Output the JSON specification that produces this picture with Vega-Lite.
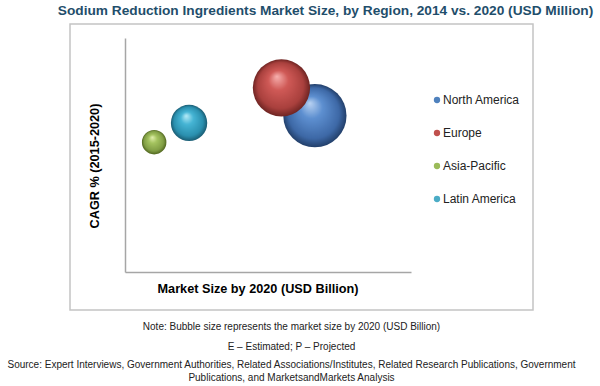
{
  "$schema": "https://vega.github.io/schema/vega-lite/v6.json",
  "width": 463,
  "height": 286,
  "autosize": {"type": "none"},
  "padding": {"left": 70, "top": 24, "right": 67, "bottom": 76},
  "background": "white",
  "title": {
    "text": ["Note: Bubble size represents the market size by 2020 (USD Billion)", "E – Estimated; P – Projected"],
    "subtitle": ["Source: Expert Interviews, Government Authorities, Related Associations/Institutes, Related Research Publications, Government", "Publications, and MarketsandMarkets Analysis"],
    "orient": "bottom",
    "anchor": "middle",
    "frame": "group",
    "dx": -10,
    "offset": 12,
    "font": "Liberation Sans",
    "fontSize": 10,
    "fontWeight": "normal",
    "color": "#222222",
    "lineHeight": 20,
    "subtitleFont": "Liberation Sans",
    "subtitleFontSize": 10,
    "subtitleColor": "#222222",
    "subtitleLineHeight": 12.5,
    "subtitlePadding": 8,
    "limit": 0
  },
  "data": {
    "values": [
      {"region": "North America", "market_x": 66.4, "cagr": 66.8, "bubble": 1.0},
      {"region": "Europe", "market_x": 54.7, "cagr": 78.7, "bubble": 0.82},
      {"region": "Asia-Pacific", "market_x": 10.2, "cagr": 55.5, "bubble": 0.15},
      {"region": "Latin America", "market_x": 22.4, "cagr": 63.7, "bubble": 0.33}
    ]
  },
  "config": {
    "view": {"stroke": "#c4c4c4", "strokeWidth": 1.5},
    "axis": {"grid": false, "ticks": false, "labels": false}
  },
  "layer": [
    {
      "mark": {"type": "circle", "opacity": 0},
      "encoding": {
        "x": {
          "field": "market_x", "type": "quantitative",
          "scale": {"domain": [0, 100], "range": [55, 341], "nice": false, "zero": false},
          "axis": {
            "orient": "bottom", "offset": -38, "domain": true, "domainColor": "#a6a6a6", "domainWidth": 1.5,
            "title": "Market Size by 2020 (USD Billion)", "titleFont": "Liberation Sans", "titleFontSize": 12.7,
            "titleFontWeight": "bold", "titleColor": "#000000", "titleX": 187.5, "titlePadding": 10
          }
        },
        "y": {
          "field": "cagr", "type": "quantitative",
          "scale": {"domain": [0, 100], "range": [248, 14], "nice": false, "zero": false},
          "axis": {
            "orient": "left", "offset": -55, "domain": true, "domainColor": "#a6a6a6", "domainWidth": 1.5,
            "title": "CAGR % (2015-2020)", "titleFont": "Liberation Sans", "titleFontSize": 12.7,
            "titleFontWeight": "bold", "titleColor": "#000000", "titleX": -24, "titleY": 141.5
          }
        },
        "color": {
          "field": "region", "type": "nominal",
          "scale": {
            "domain": ["North America", "Europe", "Asia-Pacific", "Latin America"],
            "range": ["#4f81bd", "#c0504d", "#9bbb59", "#4bacc6"]
          },
          "legend": {
            "title": null, "orient": "none", "legendX": 361, "legendY": 70, "padding": 0,
            "symbolType": "circle", "symbolSize": 40, "symbolOpacity": 1, "symbolStrokeWidth": 0,
            "labelFont": "Liberation Sans", "labelFontSize": 12, "labelColor": "#222222",
            "labelOffset": 0, "rowPadding": 21
          }
        }
      }
    },
    {
      "mark": {"type": "circle", "opacity": 0},
      "encoding": {
        "x": {
          "field": "market_x", "type": "quantitative",
          "axis": {
            "orient": "top", "domain": false,
            "title": "Sodium Reduction Ingredients Market Size, by Region, 2014 vs. 2020 (USD Million)",
            "titleFont": "Liberation Sans", "titleFontSize": 13.7, "titleFontWeight": "bold",
            "titleColor": "#1f4e6b", "titleX": 255, "titlePadding": 7, "titleLimit": 700
          }
        },
        "y": {"field": "cagr", "type": "quantitative"}
      }
    },
    {
      "transform": [{"filter": "datum.region === 'North America'"}],
      "mark": {
        "type": "circle", "opacity": 1,
        "color": {"gradient": "radial", "x1": 0.42, "y1": 0.3, "r1": 0, "x2": 0.5, "y2": 0.5, "r2": 0.5,
          "stops": [{"offset": 0, "color": "#b9d2f2"}, {"offset": 0.35, "color": "#5d8fd0"}, {"offset": 0.8, "color": "#3d68a6"}, {"offset": 1, "color": "#223f6a"}]}
      },
      "encoding": {
        "x": {"field": "market_x", "type": "quantitative", "axis": null},
        "y": {"field": "cagr", "type": "quantitative"},
        "size": {"field": "bubble", "type": "quantitative", "scale": {"domain": [0, 1], "range": [0, 4000], "zero": true}, "legend": null}
      }
    },
    {
      "transform": [{"filter": "datum.region === 'Europe'"}],
      "mark": {
        "type": "circle", "opacity": 1,
        "color": {"gradient": "radial", "x1": 0.42, "y1": 0.3, "r1": 0, "x2": 0.5, "y2": 0.5, "r2": 0.5,
          "stops": [{"offset": 0, "color": "#f7b0ae"}, {"offset": 0.35, "color": "#cf5956"}, {"offset": 0.8, "color": "#a9403d"}, {"offset": 1, "color": "#6e2422"}]}
      },
      "encoding": {
        "x": {"field": "market_x", "type": "quantitative", "axis": null},
        "y": {"field": "cagr", "type": "quantitative"},
        "size": {"field": "bubble", "type": "quantitative", "legend": null}
      }
    },
    {
      "transform": [{"filter": "datum.region === 'Latin America'"}],
      "mark": {
        "type": "circle", "opacity": 1,
        "color": {"gradient": "radial", "x1": 0.42, "y1": 0.3, "r1": 0, "x2": 0.5, "y2": 0.5, "r2": 0.5,
          "stops": [{"offset": 0, "color": "#b8ecf8"}, {"offset": 0.35, "color": "#45b4d4"}, {"offset": 0.8, "color": "#2a8fae"}, {"offset": 1, "color": "#1a5c73"}]}
      },
      "encoding": {
        "x": {"field": "market_x", "type": "quantitative", "axis": null},
        "y": {"field": "cagr", "type": "quantitative"},
        "size": {"field": "bubble", "type": "quantitative", "legend": null}
      }
    },
    {
      "transform": [{"filter": "datum.region === 'Asia-Pacific'"}],
      "mark": {
        "type": "circle", "opacity": 1,
        "color": {"gradient": "radial", "x1": 0.42, "y1": 0.3, "r1": 0, "x2": 0.5, "y2": 0.5, "r2": 0.5,
          "stops": [{"offset": 0, "color": "#e2f0ae"}, {"offset": 0.35, "color": "#a4c35f"}, {"offset": 0.8, "color": "#809d44"}, {"offset": 1, "color": "#51661f"}]}
      },
      "encoding": {
        "x": {"field": "market_x", "type": "quantitative", "axis": null},
        "y": {"field": "cagr", "type": "quantitative"},
        "size": {"field": "bubble", "type": "quantitative", "legend": null}
      }
    }
  ],
  "resolve": {"axis": {"x": "independent"}}
}
